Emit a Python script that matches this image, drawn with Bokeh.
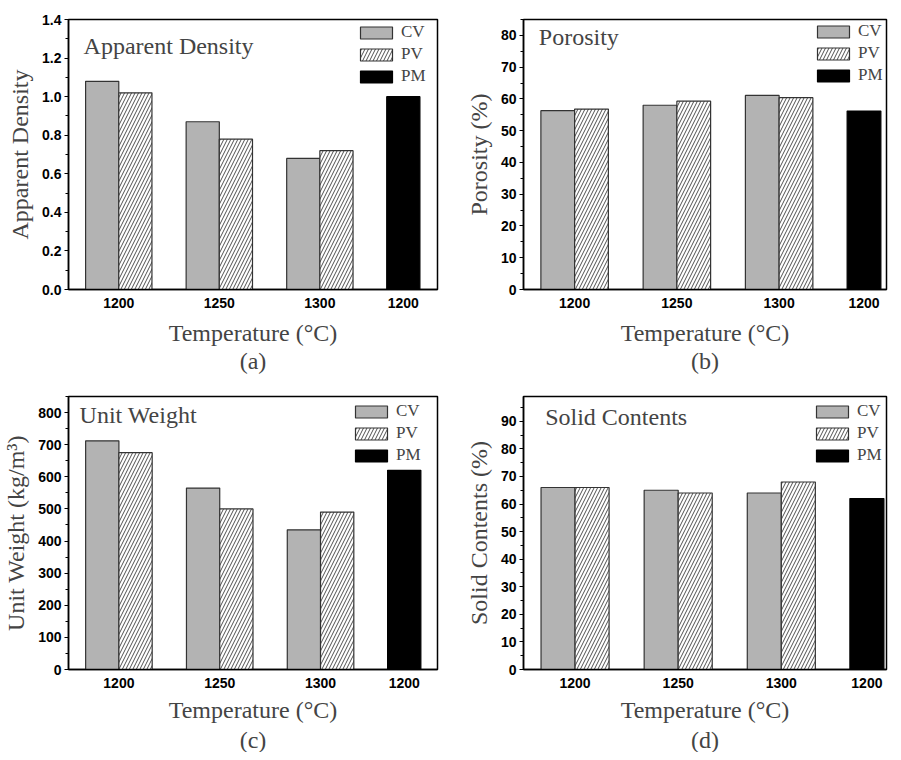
from bokeh.plotting import figure
from bokeh.layouts import gridplot
from bokeh.models import (Range1d, FixedTicker, SingleIntervalTicker, Legend, LegendItem,
                          Label, Title, NumeralTickFormatter)
from bokeh.embed import file_html
from bokeh.resources import INLINE

# ---------------- data ----------------
temps = ["1200", "1250", "1300"]      # CV / PV firing temperatures
pm_temp = "1200"                        # PM firing temperature
series = ["CV", "PV", "PM"]

density_cv = [1.08, 0.87, 0.68]
density_pv = [1.02, 0.78, 0.72]
density_pm = [1.00]

porosity_cv = [56.3, 58.0, 61.1]
porosity_pv = [56.8, 59.3, 60.4]
porosity_pm = [56.2]

unitweight_cv = [712, 565, 435]
unitweight_pv = [675, 500, 490]
unitweight_pm = [620]

solid_cv = [66, 65, 64]
solid_pv = [66, 64, 68]
solid_pm = [62]

# ---------------- layout constants ----------------
GROUP_X = [1, 2, 3]
PM_X = 3.83
BAR_W = 0.33
SERIF = "Liberation Serif"
SANS = "Liberation Sans"
CV_FILL = "#b3b3b3"
EDGE = "#333333"


def panel(cv, pv, pm, y_end, y_step, y_fmt, ylabel, name, caption,
          w, h, bl, br, bt, bb, x_end, name_xy, leg_x, leg_top,
          xlab_standoff, cap_standoff):
    p = figure(width=w, height=h, output_backend="svg", toolbar_location=None,
               x_range=Range1d(0.5, x_end), y_range=Range1d(0, y_end),
               min_border_left=bl, min_border_right=br, min_border_top=bt,
               min_border_bottom=bb)
    p.xgrid.visible = False
    p.ygrid.visible = False
    p.outline_line_color = "black"
    p.outline_line_width = 1.5
    p.background_fill_color = "white"

    cv_x = [g - BAR_W / 2 for g in GROUP_X]
    pv_x = [g + BAR_W / 2 for g in GROUP_X]
    r_cv = p.vbar(x=cv_x, top=cv, width=BAR_W, bottom=0, fill_color=CV_FILL,
                  line_color=EDGE, line_width=1.2)
    r_pv = p.vbar(x=pv_x, top=pv, width=BAR_W, bottom=0, fill_color="white",
                  line_color=EDGE, line_width=1.2, hatch_pattern="/",
                  hatch_color="#222222", hatch_weight=0.8, hatch_scale=7)
    r_pm = p.vbar(x=[PM_X], top=pm, width=BAR_W, bottom=0, fill_color="black",
                  line_color="black", line_width=1.2)

    # x axis
    xa = p.xaxis[0]
    ticks = GROUP_X + [PM_X]
    xa.ticker = FixedTicker(ticks=ticks, minor_ticks=[])
    xa.major_label_overrides = {t: lab for t, lab in zip(ticks, temps + [pm_temp])}
    xa.major_tick_out = 0
    xa.major_tick_in = 0
    xa.minor_tick_out = 0
    xa.axis_line_width = 1.5
    xa.major_label_text_font = SANS
    xa.major_label_text_font_style = "bold"
    xa.major_label_text_font_size = "14px"
    xa.major_label_text_color = "black"
    xa.major_label_standoff = 8
    xa.axis_label = "Temperature (°C)"
    xa.axis_label_text_font = SERIF
    xa.axis_label_text_font_style = "normal"
    xa.axis_label_text_font_size = "24px"
    xa.axis_label_text_line_height = 1.0
    xa.axis_label_standoff = xlab_standoff

    ya = p.yaxis[0]
    ya.ticker = SingleIntervalTicker(interval=y_step, num_minor_ticks=2)
    ya.formatter = NumeralTickFormatter(format=y_fmt)
    ya.major_tick_out = 4
    ya.major_tick_in = 0
    ya.minor_tick_out = 3
    ya.minor_tick_in = 0
    ya.axis_line_width = 1.5
    ya.major_tick_line_width = 1.2
    ya.minor_tick_line_width = 1.2
    ya.major_label_text_font = SANS
    ya.major_label_text_font_style = "bold"
    ya.major_label_text_font_size = "14px"
    ya.major_label_text_color = "black"
    ya.major_label_standoff = 3
    ya.axis_label = ylabel
    ya.axis_label_text_font = SERIF
    ya.axis_label_text_font_style = "normal"
    ya.axis_label_text_font_size = "24px"
    ya.axis_label_standoff = 6

    p.add_layout(Label(x=name_xy[0], y=name_xy[1], text=name, text_font=SERIF,
                       text_font_size="24px", text_baseline="middle",
                       text_align="left"))

    legend = Legend(items=[LegendItem(label=series[0], renderers=[r_cv]),
                           LegendItem(label=series[1], renderers=[r_pv]),
                           LegendItem(label=series[2], renderers=[r_pm])],
                    location=(leg_x, h - bt - bb - leg_top - 64),
                    glyph_width=40, glyph_height=15, label_height=15,
                    label_text_font=SERIF, label_text_font_size="17px",
                    label_standoff=5, spacing=2, padding=0, margin=0,
                    border_line_color=None, background_fill_alpha=0)
    p.add_layout(legend)

    p.add_layout(Title(text=caption, align="center", text_font=SERIF,
                       text_font_size="24px", text_font_style="normal",
                       standoff=cap_standoff), "below")
    return p


pa = panel(density_cv, density_pv, density_pm, 1.4005, 0.2, "0.0", "Apparent Density",
           "Apparent Density", "(a)", 444, 376, 61, 7, 19, 87, 4.17,
           (0.65, 1.265), 288, 3, 9, -6)
pb = panel(porosity_cv, porosity_pv, porosity_pm, 85, 10, "0", "Porosity (%)",
           "Porosity", "(b)", 445, 376, 77, 3, 19, 86, 4.05,
           (0.65, 79.5), 290, 3, 9, -6)
pc = panel(unitweight_cv, unitweight_pv, unitweight_pm, 850, 100, "0",
           "Unit Weight (kg/m³)", "Unit Weight", "(c)", 444, 376, 68, 6, 20, 83, 4.16,
           (0.61, 793), 283, 5, 6, -2)
pd_ = panel(solid_cv, solid_pv, solid_pm, 99, 10, "0", "Solid Contents (%)",
            "Solid Contents", "(d)", 445, 376, 79, 3, 20, 83, 4.02,
            (0.71, 91.6), 289, 5, 6, -2)

grid = gridplot([[pa, pb], [pc, pd_]], toolbar_location=None)

open("out.html", "w").write(file_html(grid, INLINE))
